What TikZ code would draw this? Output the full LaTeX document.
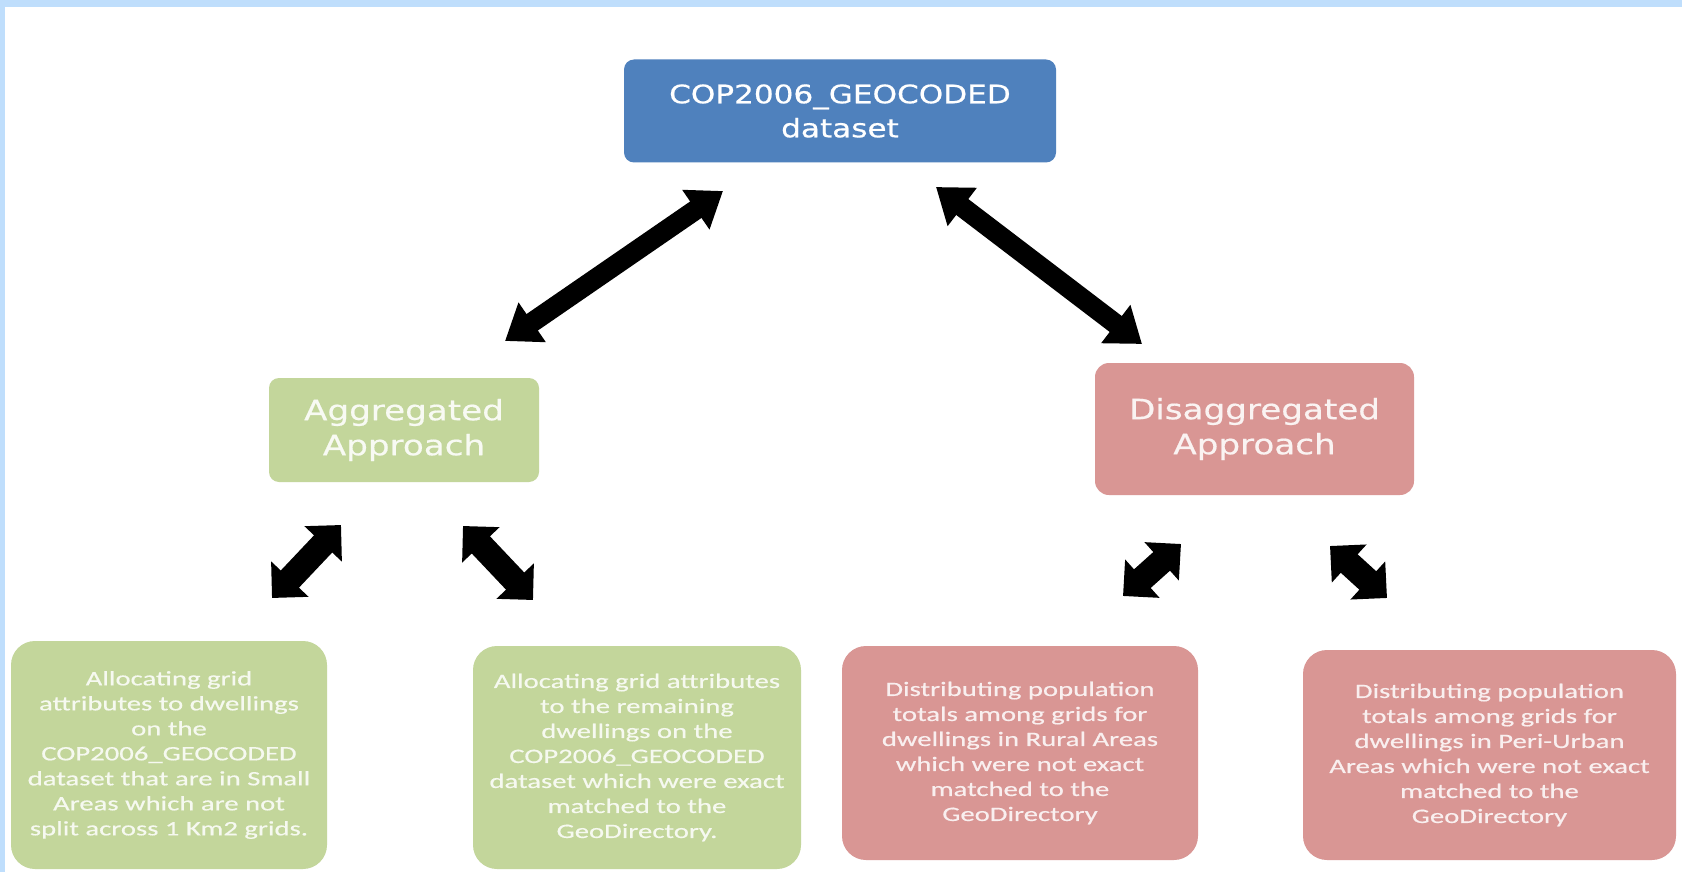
\documentclass[tikz,border=0pt]{standalone}
\usepackage{fontspec}
\setmainfont{Carlito}
\newfontfamily\headfont[FakeStretch=1.22,FakeBold=0.6]{DejaVu Sans}
\newfontfamily\bodyfont[FakeStretch=1.4,FakeBold=0.5]{Carlito}
\usetikzlibrary{arrows.meta}
\definecolor{geoblue}{HTML}{4F81BD}
\definecolor{agggreen}{HTML}{C3D69B}
\definecolor{disred}{HTML}{D99694}
\definecolor{frameblue}{HTML}{BFDEFC}

\begin{document}
\begin{tikzpicture}[x=1pt,y=-1pt,
  headbox/.style={rounded corners=10pt,inner sep=0pt,align=center,font=\headfont\fontsize{28}{35}\selectfont},
  taskbox/.style={rounded corners=24pt,inner sep=0pt,align=center,font=\bodyfont\fontsize{20.5}{25}\selectfont},
  bigarrow/.style={line width=20pt,{Triangle[width=46pt,length=33pt]}-{Triangle[width=46pt,length=33pt]}},
  smallarrow/.style={line width=25pt,{Triangle[width=50pt,length=26pt]}-{Triangle[width=50pt,length=26pt]}}]
\useasboundingbox (0,0) rectangle (1682,872);
\fill[white] (0,0) rectangle (1682,872);
\fill[frameblue] (0,0) rectangle (1682,7);
\fill[frameblue] (0,0) rectangle (5,872);
% top level
\node[headbox,fill=geoblue,text=white,minimum width=432pt,minimum height=103pt,font=\headfont\fontsize{25.5}{34}\selectfont] (geo) at (840,111) {COP2006\_GEOCODED\\dataset};
% the two approaches
\node[headbox,fill=agggreen,text=white!88!agggreen,minimum width=270pt,minimum height=104pt] (agg) at (404,430) {Aggregated\\Approach};
\node[headbox,fill=disred,text=white!88!disred,minimum width=319pt,minimum height=132pt,rounded corners=14pt] (dis) at (1254.5,429) {Disaggregated\\Approach};
% tasks
\node[taskbox,fill=agggreen,text=white!85!agggreen,minimum width=316pt,minimum height=228pt] (aggA) at (169,755) {Allocating grid\\attributes to dwellings\\on the\\COP2006\_GEOCODED\\dataset that are in Small\\Areas which are not\\split across 1 Km2 grids.};
\node[taskbox,fill=agggreen,text=white!85!agggreen,minimum width=328pt,minimum height=223pt] (aggB) at (637,757.5) {Allocating grid attributes\\to the remaining\\dwellings on the\\COP2006\_GEOCODED\\dataset which were exact\\matched to the\\GeoDirectory.};
\node[taskbox,fill=disred,text=white!85!disred,minimum width=356pt,minimum height=214pt] (disA) at (1020,753) {Distributing population\\totals among grids for\\dwellings in Rural Areas\\which were not exact\\matched to the\\GeoDirectory};
\node[taskbox,fill=disred,text=white!85!disred,minimum width=373pt,minimum height=210pt] (disB) at (1489.5,755) {Distributing population\\totals among grids for\\dwellings in Peri-Urban\\Areas which were not exact\\matched to the\\GeoDirectory};
% arrow ends
\coordinate (geoL) at (723,191);
\coordinate (aggT) at (505,341);
\coordinate (geoR) at (936,187);
\coordinate (disT) at (1142,344);
\coordinate (aggL) at (341,525);
\coordinate (aggAT) at (272,598);
\coordinate (aggR) at (463,526);
\coordinate (aggBT) at (533,600);
\coordinate (disL) at (1181,544);
\coordinate (disAT) at (1123,596);
\coordinate (disR) at (1330,546);
\coordinate (disBT) at (1387,598);
\draw[bigarrow] (aggT)--(geoL);
\draw[bigarrow] (geoR)--(disT);
\draw[smallarrow] (aggAT)--(aggL);
\draw[smallarrow] (aggR)--(aggBT);
\draw[smallarrow] (disAT)--(disL);
\draw[smallarrow] (disR)--(disBT);
\end{tikzpicture}
\end{document}
